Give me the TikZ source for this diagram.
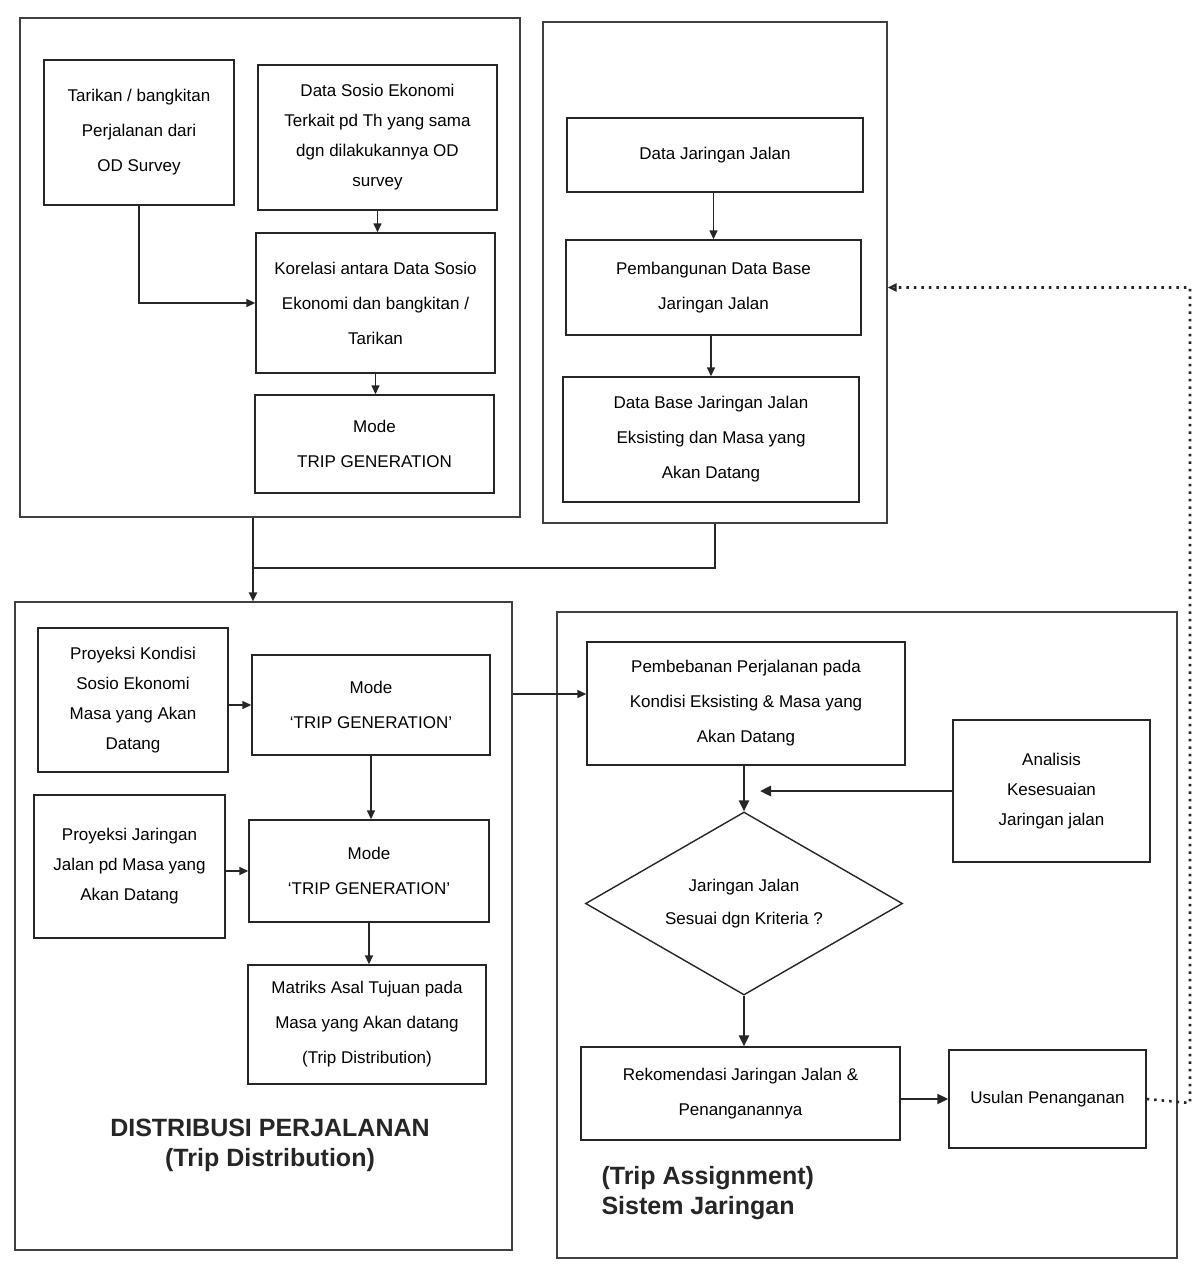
\documentclass[tikz,border=0pt]{standalone}
\usepackage{fontspec}
\setmainfont{Liberation Sans}
\usepackage{tikz}
\usetikzlibrary{arrows.meta, positioning, shapes.geometric}
\tikzset{
  procnode/.style={draw=black!85,line width=1.4pt,align=center,inner sep=2pt,font=\fontsize{17}{35}\selectfont},
  tightnode/.style={procnode,font=\fontsize{17}{30}\selectfont},
  decnode/.style={procnode,diamond,aspect=1.7,inner sep=0pt,font=\fontsize{17}{33}\selectfont},
  framenode/.style={draw=black!75,line width=1.1pt,inner sep=0pt},
  titlenode/.style={font=\fontsize{25}{30}\selectfont\bfseries,text=black!85},
  flowedge/.style={-{Triangle[length=9pt,width=8pt]},line width=1.4pt,black!85},
  boldedge/.style={flowedge,line width=2.6pt,-{Triangle[length=11pt,width=10pt]}},
  feededge/.style={-{Triangle[length=9pt,width=8pt,open]},line width=2.6pt,dash pattern=on 2.5pt off 5pt,black!85},
}
\begin{document}
\begin{tikzpicture}[x=1pt,y=-1pt]
  \path[use as bounding box,fill=white] (0,0) rectangle (1197,1264);
  \node[framenode,minimum width=500,minimum height=499] (fGen) at (270.0,267.5) {};
  \node[framenode,minimum width=344,minimum height=501] (fJar) at (715.0,272.5) {};
  \node[framenode,minimum width=497,minimum height=648] (fDist) at (263.5,926.0) {};
  \node[framenode,minimum width=620,minimum height=646] (fAssign) at (867.0,935.0) {};
  \node[procnode,minimum width=190,minimum height=145] (nTarikan) at (139.0,132.5) {Tarikan / bangkitan\\Perjalanan dari\\OD Survey};
  \node[tightnode,minimum width=239,minimum height=145] (nSosio) at (377.5,137.5) {Data Sosio Ekonomi\\Terkait pd Th yang sama\\dgn dilakukannya OD\\survey};
  \node[procnode,minimum width=239,minimum height=140] (nKorelasi) at (375.5,303.0) {Korelasi antara Data Sosio\\Ekonomi dan bangkitan /\\Tarikan};
  \node[procnode,minimum width=239,minimum height=98] (nModeA) at (374.5,444.0) {Mode\\TRIP GENERATION};
  \node[procnode,minimum width=296,minimum height=74] (nDataJJ) at (715.0,155.0) {Data Jaringan Jalan};
  \node[procnode,minimum width=295,minimum height=95] (nBangun) at (713.5,287.5) {Pembangunan Data Base\\Jaringan Jalan};
  \node[procnode,minimum width=296,minimum height=125] (nDataBase) at (711.0,439.5) {Data Base Jaringan Jalan\\Eksisting dan Masa yang\\Akan Datang};
  \node[tightnode,minimum width=190,minimum height=144] (nProyKondisi) at (133.0,700.0) {Proyeksi Kondisi\\Sosio Ekonomi\\Masa yang Akan\\Datang};
  \node[procnode,minimum width=238,minimum height=100] (nModeB) at (371.0,705.0) {Mode\\`TRIP GENERATION'};
  \node[tightnode,minimum width=191,minimum height=143] (nProyJar) at (129.5,866.5) {Proyeksi Jaringan\\Jalan pd Masa yang\\Akan Datang};
  \node[procnode,minimum width=240,minimum height=102] (nModeC) at (369.0,871.0) {Mode\\`TRIP GENERATION'};
  \node[procnode,minimum width=238,minimum height=119] (nMatriks) at (367.0,1024.5) {Matriks Asal Tujuan pada\\Masa yang Akan datang\\(Trip Distribution)};
  \node[procnode,minimum width=318,minimum height=123] (nBeban) at (746.0,703.5) {Pembebanan Perjalanan pada\\Kondisi Eksisting \& Masa yang\\Akan Datang};
  \node[tightnode,minimum width=197,minimum height=142] (nAnalisis) at (1051.5,791.0) {Analisis\\Kesesuaian\\Jaringan jalan};
  \node[decnode,minimum width=317,minimum height=183] (nSesuai) at (744.0,903.5) {Jaringan Jalan\\Sesuai dgn Kriteria ?};
  \node[procnode,minimum width=319,minimum height=93] (nRekom) at (740.5,1093.5) {Rekomendasi Jaringan Jalan \&\\Penanganannya};
  \node[procnode,minimum width=197,minimum height=98] (nUsulan) at (1047.5,1099.0) {Usulan Penanganan};
  \node[titlenode,align=center] (tDist) at (270.0,1145.0) {DISTRIBUSI PERJALANAN\\(Trip Distribution)};
  \node[titlenode,align=left,anchor=west] (tAssign) at (598.0,1193.0) {(Trip Assignment)\\Sistem Jaringan};
  \coordinate (cJoin) at (253.0,568.0);
  \coordinate (cRight) at (1190.0,1103.0);
  \draw[flowedge] (nTarikan.south) |- (nKorelasi.west);
  \draw[flowedge] (nSosio.south) -- (nSosio.south |- nKorelasi.north);
  \draw[flowedge] (nKorelasi.south) -- (nKorelasi.south |- nModeA.north);
  \draw[flowedge] (nDataJJ.south -| nBangun) -- (nBangun.north);
  \draw[flowedge] (nBangun.south -| nDataBase) -- (nDataBase.north);
  \draw[line width=2pt,black!85] (fJar.south) |- (cJoin);
  \draw[flowedge,line width=2pt] (fGen.south -| cJoin) -- (fDist.north -| cJoin);
  \draw[flowedge] (nProyKondisi.east |- nModeB) -- (nModeB.west);
  \draw[flowedge] (nProyJar.east |- nModeC) -- (nModeC.west);
  \draw[flowedge] (nModeB.south) -- (nModeB.south |- nModeC.north);
  \draw[flowedge] (nModeC.south) -- (nModeC.south |- nMatriks.north);
  \draw[flowedge] (fDist.east |- 0,694) -- (nBeban.west |- 0,694);
  \draw[boldedge] (nBeban.south -| nSesuai) -- (nSesuai.north);
  \draw[boldedge,shorten >=16pt] (nAnalisis.west) -- (nAnalisis.west -| nSesuai);
  \draw[boldedge] (nSesuai.south) -- (nSesuai.south |- nRekom.north);
  \draw[boldedge,line width=2pt] (nRekom.east |- nUsulan) -- (nUsulan.west);
  \draw[feededge] (nUsulan.east) -- (cRight) -- (cRight |- nBangun) -- (fJar.east |- nBangun);
\end{tikzpicture}
\end{document}
